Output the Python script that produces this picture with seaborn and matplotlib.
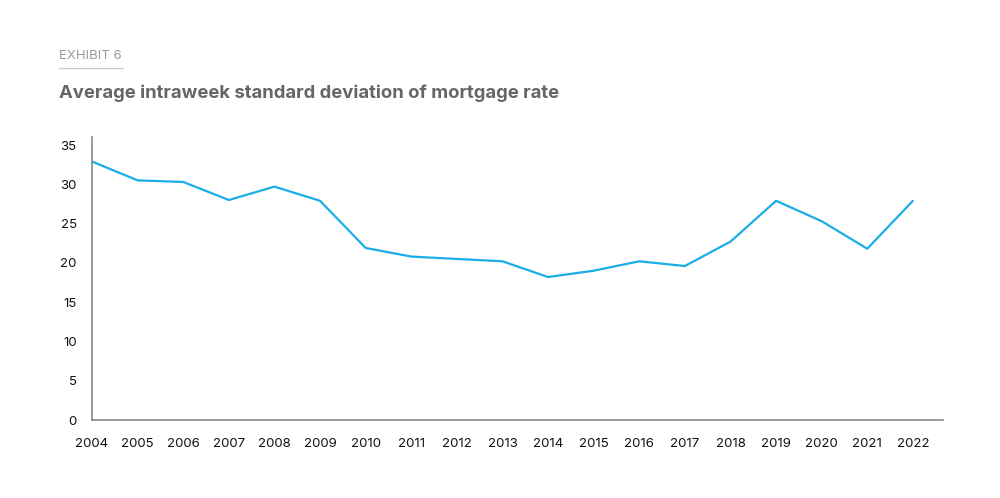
import matplotlib
matplotlib.use("Agg")
import matplotlib.pyplot as plt
import seaborn as sns
import pandas as pd

years = list(range(2004, 2023))
std_dev = [32.9, 30.5, 30.3, 28.0, 29.7, 27.9, 21.9, 20.8, 20.5, 20.2,
           18.2, 19.0, 20.2, 19.6, 22.7, 27.9, 25.3, 21.8, 27.9]
y_ticks = [0, 5, 10, 15, 20, 25, 30, 35]

df = pd.DataFrame({"Year": years, "StdDev": std_dev})

sns.set_style("white")
plt.rcParams['font.family'] = ['Inter', 'DejaVu Sans']

fig = plt.figure(figsize=(10, 4.98), dpi=100)
ax = fig.add_axes([0.092, 0.1566, 0.851, 0.568])

sns.lineplot(data=df, x="Year", y="StdDev", ax=ax, color="#1aaee6", linewidth=1.6)

ax.set_xlim(2004, 2022.66)
ax.set_ylim(0, 36)
ax.set_xticks(years)
ax.set_xticklabels([str(y) for y in years], fontsize=9.5, color="#111111")
ax.set_yticks(y_ticks)
ax.set_yticklabels([str(v) for v in y_ticks], fontsize=9.5, color="#111111")
ax.set_xlabel("")
ax.set_ylabel("")

for side in ["top", "right"]:
    ax.spines[side].set_visible(False)
for side in ["left", "bottom"]:
    ax.spines[side].set_color("#8a8a8a")
    ax.spines[side].set_linewidth(1.2)
ax.tick_params(axis="both", direction="out", length=5, width=1, color="#555555", pad=6)
ax.tick_params(axis="x", pad=8)

# header text
fig.text(0.059, 0.888, "EXHIBIT 6", fontsize=9.5, color="#9a9a9a", va="center", ha="left")
fig.add_artist(plt.Line2D([0.059, 0.123], [0.863, 0.863], color="#cccccc", linewidth=1))
fig.text(0.059, 0.813, "Average intraweek standard deviation of mortgage rate",
         fontsize=13.3, fontweight="bold", color="#666666", va="center", ha="left")

fig.savefig("out.png", dpi=100)
